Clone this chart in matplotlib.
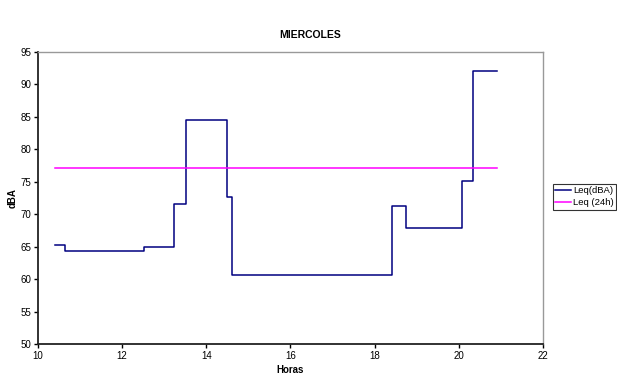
import matplotlib
matplotlib.use("Agg")
import matplotlib.pyplot as plt

plt.rcParams['font.family'] = ['Liberation Sans', 'DejaVu Sans']

# horas de cada cambio de nivel y su Leq (dBA)
horas = [10.41, 10.63, 12.53, 13.22, 13.51, 14.48, 14.60, 18.41, 18.74, 20.07, 20.33, 20.90]
leq = [65.3, 64.3, 65.0, 71.6, 84.5, 72.7, 60.6, 71.2, 67.8, 75.1, 92.1, 92.1]

# Leq de 24 horas
horas_24h = [10.41, 20.90]
leq_24h = [77.1, 77.1]

fig = plt.figure(figsize=(6.17, 3.74), dpi=100)
ax = fig.add_axes([38 / 617, 1 - 344 / 374, 505 / 617, 292.3 / 374])

ax.plot(horas, leq, drawstyle='steps-post', color='#000080', lw=1.1, label='Leq(dBA)')
ax.plot(horas_24h, leq_24h, color='#FF00FF', lw=1.1, label='Leq (24h)')

ax.set_xlim(10, 22)
ax.set_ylim(50, 95)
ax.set_xticks(range(10, 23, 2))
ax.set_yticks(range(50, 96, 5))
ax.tick_params(labelsize=7, length=3, width=1, direction='out', pad=2)

for s in ['top', 'right']:
    ax.spines[s].set_color('#999999')
    ax.spines[s].set_linewidth(1)
for s in ['left', 'bottom']:
    ax.spines[s].set_color('#222222')
    ax.spines[s].set_linewidth(1.3)

ax.set_xlabel('Horas', fontsize=7, fontweight='bold', labelpad=3)
ax.set_ylabel('dBA', fontsize=7, fontweight='bold', labelpad=2)
fig.text(310 / 617, 1 - 35 / 374, 'MIERCOLES', fontsize=7.5, fontweight='bold', ha='center', va='center')

leg = fig.legend(loc='upper left', bbox_to_anchor=(553 / 617, 1 - 184 / 374), fontsize=6.8,
                 frameon=True, fancybox=False, handlelength=1.7, handletextpad=0.15,
                 borderpad=0.25, labelspacing=0.3, borderaxespad=0)
leg.get_frame().set_edgecolor('black')
leg.get_frame().set_linewidth(0.8)

fig.savefig('out.png', dpi=100)
